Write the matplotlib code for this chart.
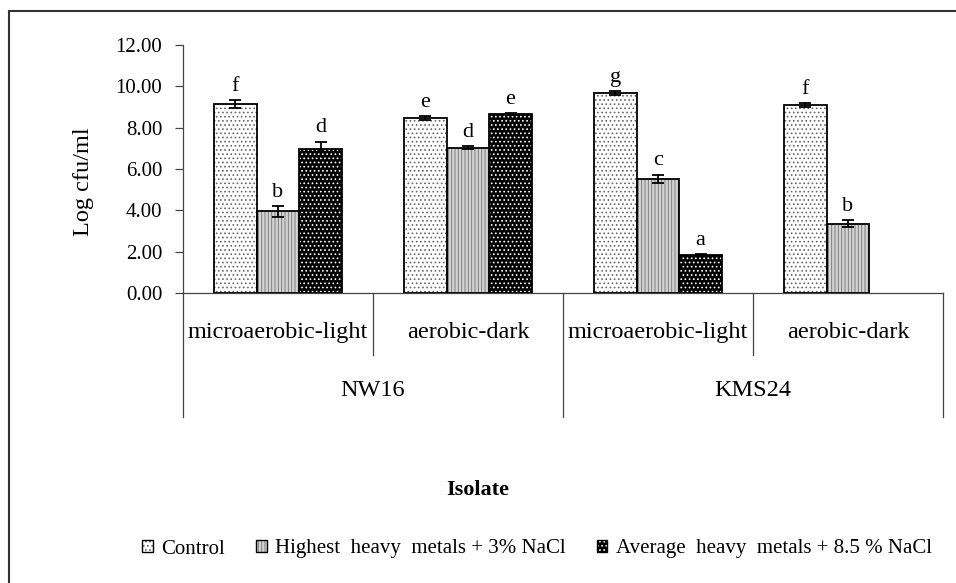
import numpy as np
import matplotlib
matplotlib.use('Agg')
import matplotlib.pyplot as plt
from matplotlib.patches import Patch
from matplotlib.legend_handler import HandlerTuple

plt.rcParams['font.family'] = ['Liberation Serif', 'DejaVu Serif']
plt.rcParams['hatch.linewidth'] = 0.7

# data
conditions = ['microaerobic-light', 'aerobic-dark', 'microaerobic-light', 'aerobic-dark']
isolates = ['NW16', 'KMS24']
series = ['Control', 'Highest  heavy  metals + 3% NaCl', 'Average  heavy  metals + 8.5 % NaCl']

control = [9.15, 8.47, 9.66, 9.10]
highest = [3.95, 7.04, 5.53, 3.35]
average = [6.98, 8.67, 1.85, np.nan]

control_err = [0.20, 0.10, 0.10, 0.10]
highest_err = [0.25, 0.05, 0.20, 0.16]
average_err = [0.35, 0.05, 0.05, np.nan]

control_lbl = ['f', 'e', 'g', 'f']
highest_lbl = ['b', 'd', 'c', 'b']
average_lbl = ['d', 'e', 'a', '']

styles = [
    dict(face='white', hatch='....', hcol='#666666'),
    dict(face='#d4d4d4', hatch='|||||', hcol='#7a7a7a'),
    dict(face='black', hatch='....', hcol='white'),
]

fig = plt.figure(figsize=(9.56, 5.83), dpi=100)
W, H = 956, 583
ax = fig.add_axes([183 / W, 1 - 293 / H, (943 - 183) / W, 248 / H])

x = np.arange(len(conditions))
bw = 0.224
offsets = [-bw, 0, bw]
vals = [control, highest, average]
errs = [control_err, highest_err, average_err]
lbls = [control_lbl, highest_lbl, average_lbl]

handles = []
for k in range(3):
    st = styles[k]
    v = np.array(vals[k], dtype=float)
    e = np.array(errs[k], dtype=float)
    xs = x + offsets[k]
    ok = ~np.isnan(v)
    ax.bar(xs[ok], v[ok], bw, color=st['face'], hatch=st['hatch'],
           edgecolor=st['hcol'], linewidth=0, zorder=2)
    ax.bar(xs[ok], v[ok], bw, fill=False, edgecolor='black', linewidth=1.3, zorder=3)
    ax.errorbar(xs[ok], v[ok], yerr=e[ok], fmt='none', ecolor='black',
                elinewidth=1.3, capsize=4, capthick=1.3, zorder=4)
    for xi, vi, ei, t in zip(xs[ok], v[ok], e[ok], np.array(lbls[k])[ok]):
        ax.annotate(t, (xi, vi + ei), xytext=(0, 3), textcoords='offset points',
                    ha='center', va='bottom', fontsize=16)
    handles.append((Patch(facecolor=st['face'], hatch=st['hatch'], edgecolor=st['hcol'], linewidth=0),
                    Patch(fill=False, edgecolor='black', linewidth=1.0)))

ax.set_xlim(-0.5, 3.5)
ax.set_ylim(0, 12)
ax.set_yticks(np.arange(0, 12.1, 2))
ax.set_yticklabels(['%.2f' % t for t in np.arange(0, 12.1, 2)], fontsize=15)
ax.tick_params(axis='y', direction='out', length=6, width=0.9, pad=9, color='#444444')
ax.set_xticks([])
for s in ['top', 'right']:
    ax.spines[s].set_visible(False)
ax.spines['left'].set_color('#444444')
ax.spines['bottom'].set_color('#444444')
ax.spines['left'].set_linewidth(0.9)
ax.spines['bottom'].set_linewidth(0.9)

# category / isolate separators below the axis
tr = ax.get_xaxis_transform()
for xb, y_end in [(-0.5, -0.5), (0.5, -0.25), (1.5, -0.5), (2.5, -0.25), (3.5, -0.5)]:
    ax.plot([xb, xb], [0, y_end], transform=tr, color='#444444', lw=0.9, clip_on=False)
for xi, c in zip(x, conditions):
    ax.text(xi, -0.161, c, transform=tr, ha='center', va='center', fontsize=17.5)
for i, name in enumerate(isolates):
    ax.text(2 * i + 0.5, -0.395, name, transform=tr, ha='center', va='center', fontsize=17.5)

fig.text(83 / W, 1 - 182 / H, 'Log cfu/ml', rotation=90, ha='center', va='center', fontsize=17.5)
fig.text(478 / W, 1 - 490 / H, 'Isolate', ha='center', va='center', fontsize=16, fontweight='bold')

fig.legend(handles, series, handler_map={tuple: HandlerTuple(ndivide=1)},
           loc='center', bbox_to_anchor=(537 / W, 1 - 549 / H), ncol=3, frameon=False,
           fontsize=15, handlelength=0.5, handleheight=0.5, handletextpad=0.4,
           columnspacing=1.5)

# outer frame (left and top edges)
fig.add_artist(plt.Line2D([9 / W, 9 / W], [0, 1 - 11 / H], color='#333333', lw=1.5))
fig.add_artist(plt.Line2D([9 / W, 1], [1 - 11 / H, 1 - 11 / H], color='#333333', lw=1.5))

fig.savefig('out.png', dpi=100)
